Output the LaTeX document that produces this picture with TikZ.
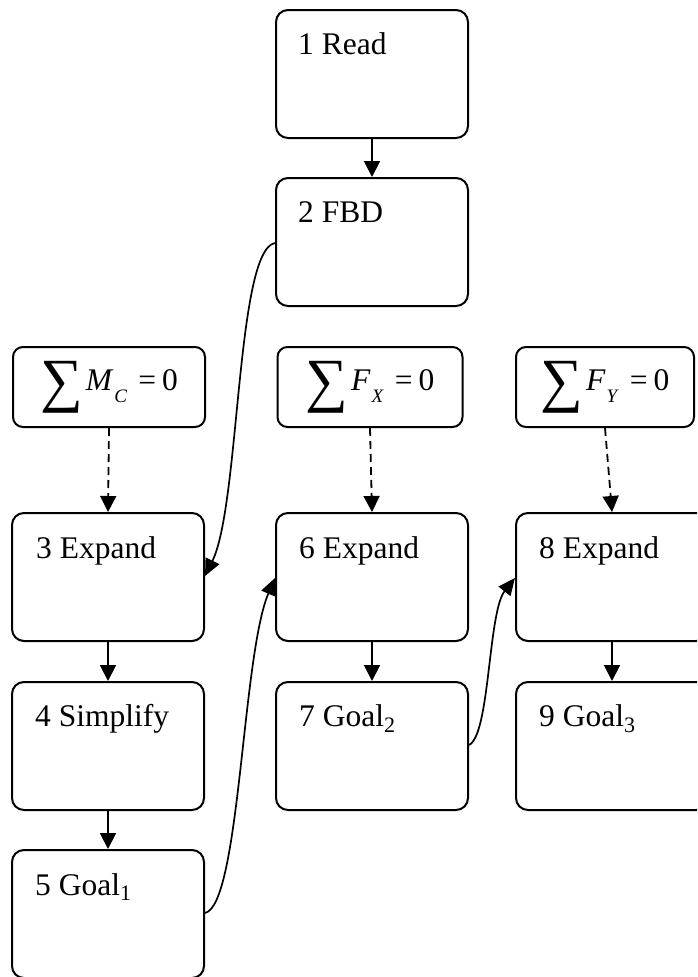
\documentclass[tikz,border=0pt]{standalone}
\usepackage{fontspec}
\usepackage{graphicx}
\setmainfont{Liberation Serif}
\usetikzlibrary{arrows.meta,calc}
\newcommand\sumeq[2]{\raisebox{-0.3em}{\scalebox{1.9}{∑}}\hspace{3pt}\textit{#1}\hspace{1pt}\raisebox{-0.36em}{\fontsize{19}{19}\selectfont\textit{#2}}\hspace{11pt}=\hspace{6pt}0}
\tikzset{
  box/.style={draw, line width=2pt, rounded corners=12pt, minimum width=192pt, minimum height=128pt, inner sep=0pt},
  eqbox/.style={draw, line width=2pt, rounded corners=10pt, minimum height=80pt, inner sep=0pt, font=\fontsize{31.5}{31.5}\selectfont},
  lbl/.style={anchor=base west, inner sep=0pt, font=\fontsize{31.5}{31.5}\selectfont},
  arr/.style={line width=2pt, -{Triangle[length=16pt,width=16pt]}},
  darr/.style={line width=1.8pt, dash pattern=on 8pt off 5pt, -{Triangle[length=16pt,width=16pt]}},
  carr/.style={line width=1.7pt, -{Triangle[length=17pt,width=15pt]}}
}
\begin{document}
\begin{tikzpicture}[x=1pt,y=-1pt]
\useasboundingbox (0,0) rectangle (697,977);
\clip (0,0) rectangle (697,977);
\fill[white] (0,0) rectangle (697,977);
% main boxes
\node[box] (n1) at (372,74) {};
\node[box] (n2) at (372,242) {};
\node[box] (n3) at (108,577) {};
\node[box] (n4) at (108,746) {};
\node[box] (n5) at (108,914) {};
\node[box] (n6) at (372,577) {};
\node[box] (n7) at (372,746) {};
\node[box] (n8) at (612,577) {};
\node[box] (n9) at (612,746) {};
% equation boxes
\node[eqbox, minimum width=192pt] (eM) at (109,387) {\sumeq{M}{C}};
\node[eqbox, minimum width=185pt] (eX) at (370,387) {\sumeq{F}{X}};
\node[eqbox, minimum width=178pt] (eY) at (605,387) {\sumeq{F}{Y}};
% labels
\node[lbl] (t1) at ($(n1.north west)+(23,45)$) {1 Read};
\node[lbl] (t2) at ($(n2.north west)+(23,45)$) {2 FBD};
\node[lbl] (t3) at ($(n3.north west)+(25,46)$) {3 Expand};
\node[lbl] (t4) at ($(n4.north west)+(24,45)$) {4 Simplify};
\node[lbl] (t5) at ($(n5.north west)+(24,46)$) {5 Goal\textsubscript{1}};
\node[lbl] (t6) at ($(n6.north west)+(24,46)$) {6 Expand};
\node[lbl] (t7) at ($(n7.north west)+(24,45)$) {7 Goal\textsubscript{2}};
\node[lbl] (t8) at ($(n8.north west)+(24,46)$) {8 Expand};
\node[lbl] (t9) at ($(n9.north west)+(24,45)$) {9 Goal\textsubscript{3}};
% straight arrows
\draw[arr] (n1.south) -- (n2.north);
\draw[arr] (n3.south) -- (n4.north);
\draw[arr] (n4.south) -- (n5.north);
\draw[arr] (n6.south) -- (n7.north);
\draw[arr] (n8.south) -- (n9.north);
% dashed arrows
\draw[darr] (eM.south) -- (n3.north);
\draw[darr] (eX.south) -- (n6.north);
\draw[darr] (eY.south) -- (n8.north);
% curved arrows
\draw[carr] ($(n2.west)+(0,1)$) .. controls (236,250) and (240,505) .. ($(n3.east)+(0,-1)$);
\draw[carr] ($(n5.east)+(0,-1)$) .. controls (240,905) and (242,655) .. ($(n6.west)+(0,1)$);
\draw[carr] ($(n7.east)+(0,-1)$) .. controls (490,735) and (488,612) .. ($(n8.west)+(0,1)$);
\end{tikzpicture}
\end{document}
